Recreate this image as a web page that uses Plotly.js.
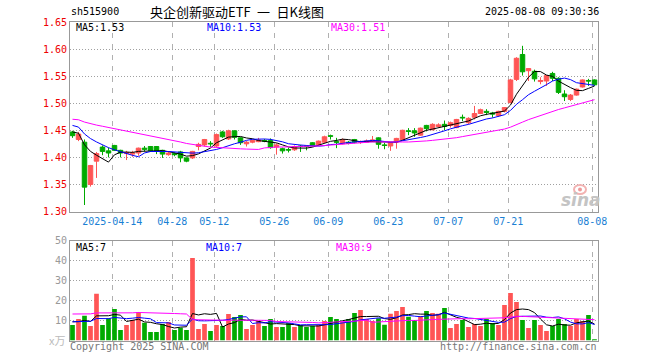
<!DOCTYPE html>
<html><head><meta charset="utf-8">
<script src="https://cdn.plot.ly/plotly-3.0.1.min.js"></script>
<style>html,body{margin:0;padding:0;background:#fff;}#chart{width:660px;height:360px;}</style>
</head><body><div id="chart"></div>
<script>
const dates = ["2025-04-02","2025-04-03","2025-04-07","2025-04-08","2025-04-09","2025-04-10","2025-04-11",
"2025-04-14","2025-04-15","2025-04-16","2025-04-17","2025-04-18","2025-04-21","2025-04-22","2025-04-23","2025-04-24","2025-04-25",
"2025-04-28","2025-04-29","2025-04-30","2025-05-06","2025-05-07","2025-05-08","2025-05-09",
"2025-05-12","2025-05-13","2025-05-14","2025-05-15","2025-05-16","2025-05-19","2025-05-20","2025-05-21","2025-05-22","2025-05-23",
"2025-05-26","2025-05-27","2025-05-28","2025-05-29","2025-05-30","2025-06-03","2025-06-04","2025-06-05","2025-06-06",
"2025-06-09","2025-06-10","2025-06-11","2025-06-12","2025-06-13","2025-06-16","2025-06-17","2025-06-18","2025-06-19","2025-06-20",
"2025-06-23","2025-06-24","2025-06-25","2025-06-26","2025-06-27","2025-06-30","2025-07-01","2025-07-02","2025-07-03","2025-07-04",
"2025-07-07","2025-07-08","2025-07-09","2025-07-10","2025-07-11","2025-07-14","2025-07-15","2025-07-16","2025-07-17","2025-07-18",
"2025-07-21","2025-07-22","2025-07-23","2025-07-24","2025-07-25","2025-07-28","2025-07-29","2025-07-30","2025-07-31",
"2025-08-01","2025-08-04","2025-08-05","2025-08-06","2025-08-07","2025-08-08"];

const open = [1.447,1.433,1.428,1.350,1.393,1.419,1.412,1.422,1.413,1.407,
1.406,1.408,1.417,1.420,1.420,1.413,1.405,1.407,1.410,1.399,
1.399,1.420,1.423,1.426,1.421,1.447,1.434,1.449,1.436,1.425,
1.428,1.429,1.431,1.431,1.419,1.416,1.4145,1.414,1.421,1.421,
1.427,1.423,1.428,1.440,1.429,1.425,1.428,1.433,1.428,1.428,
1.430,1.436,1.423,1.421,1.428,1.433,1.449,1.449,1.441,1.459,
1.451,1.457,1.461,1.459,1.455,1.474,1.464,1.474,1.481,1.485,
1.482,1.477,1.485,1.501,1.544,1.590,1.560,1.559,1.540,1.541,
1.555,1.546,1.517,1.507,1.515,1.530,1.542,1.543];

const high = [1.449,1.447,1.433,1.386,1.410,1.422,1.418,1.423,1.414,1.412,
1.412,1.418,1.421,1.421,1.421,1.414,1.411,1.409,1.412,1.400,
1.412,1.427,1.434,1.430,1.444,1.449,1.451,1.450,1.437,1.430,
1.433,1.436,1.434,1.435,1.426,1.418,1.418,1.422,1.423,1.422,
1.428,1.431,1.440,1.442,1.436,1.435,1.430,1.434,1.431,1.433,
1.4395,1.437,1.427,1.428,1.436,1.451,1.454,1.454,1.455,1.460,
1.463,1.463,1.468,1.466,1.471,1.479,1.474,1.495,1.490,1.489,
1.484,1.486,1.493,1.545,1.585,1.606,1.565,1.562,1.548,1.552,
1.558,1.548,1.524,1.517,1.527,1.544,1.545,1.544];

const low = [1.436,1.430,1.312,1.346,1.362,1.404,1.400,1.412,1.400,1.395,
1.401,1.403,1.411,1.410,1.406,1.399,1.403,1.402,1.391,1.391,
1.397,1.413,1.420,1.419,1.419,1.436,1.432,1.433,1.423,1.420,
1.426,1.428,1.428,1.416,1.405,1.407,1.409,1.412,1.410,1.413,
1.420,1.422,1.427,1.433,1.417,1.424,1.424,1.426,1.425,1.427,
1.429,1.416,1.415,1.412,1.416,1.432,1.441,1.438,1.440,1.448,
1.450,1.455,1.450,1.455,1.454,1.467,1.461,1.470,1.480,1.478,
1.4735,1.475,1.483,1.500,1.541,1.551,1.541,1.540,1.535,1.532,
1.541,1.517,1.504,1.504,1.514,1.529,1.532,1.532];

const close = [1.440,1.443,1.345,1.385,1.407,1.411,1.408,1.413,1.408,1.409,
1.408,1.417,1.415,1.412,1.412,1.406,1.408,1.405,1.399,1.393,
1.411,1.424,1.433,1.425,1.442,1.438,1.449,1.437,1.427,1.428,
1.431,1.432,1.430,1.418,1.423,1.412,1.4135,1.420,1.420,1.420,
1.421,1.430,1.438,1.439,1.428,1.433,1.426,1.428,1.429,1.430,
1.432,1.424,1.422,1.427,1.435,1.450,1.448,1.445,1.454,1.453,
1.461,1.460,1.457,1.464,1.470,1.473,1.472,1.481,1.488,1.483,
1.480,1.485,1.492,1.543,1.583,1.558,1.564,1.545,1.542,1.551,
1.546,1.520,1.512,1.515,1.526,1.543,1.541,1.534];

// volume, 万手
const volume = [7.75,10.75,12.4,7.25,23.4,7.75,11.1,15.75,5.25,7.75,
10.25,14.25,8.9,4.25,4.25,8.25,9.25,5.25,6.4,5.25,
41.25,5.75,8.25,4.75,7.75,7.25,13.25,11.75,12.75,5.75,
7.75,9.75,7.25,10.75,6.75,6.75,8.75,6.75,7.75,6.75,
7.25,7.75,9.75,11.75,10.75,9.4,10.75,13.75,15.25,10.75,
9.75,11.1,7.9,13.4,14.75,16.75,11.9,10.25,12.25,14.75,
13.75,13.4,16.25,6.25,8.25,10.25,6.75,8.25,7.25,10.75,
8.75,7.75,17.75,23.75,19.25,10.25,6.25,10.25,7.75,4.75,
7.25,10.75,8.25,7.25,10.75,9.75,12.75,0.6];

// 29 sessions before the window (estimated from where the MA lines start)
const preClose = [1.470,1.474,1.478,1.481,1.476,1.472,1.475,1.479,1.483,1.480,
1.476,1.473,1.477,1.479,1.474,1.471,1.475,1.478,1.474,1.476,
1.474,1.472,1.470,1.469,1.470,1.455,1.452,1.446,1.442];
const preVolume = [9.5,8.8,10.2,9.1,8.6,9.9,10.4,8.7,9.2,9.8,
8.9,9.6,9.3,10.1,8.5,9.4,9.0,9.7,9.05,126,
9.0,9.8,9.2,9.6,9.4,10.2,9.5,9.8,9.5];

const tickDates = ["2025-04-14","2025-04-28","2025-05-12","2025-05-26","2025-06-09","2025-06-23","2025-07-07","2025-07-21","2025-08-08"];
const tickLabels = ["2025-04-14","04-28","05-12","05-26","06-09","06-23","07-07","07-21","08-08"];
const priceTicks = [1.30,1.35,1.40,1.45,1.50,1.55,1.60,1.65];
const volTicks = [10,20,30,40,50];
const volMALabels = ["MA5:7","MA10:7","MA30:9"];

const UP = "#ff5555", DOWN = "#00aa00";
const MA_COLORS = ["#000000","#0000ff","#ff00ff"];
const MA_N = [5,10,30];

function ma(pre, arr, n){
  const all = pre.concat(arr), off = pre.length;
  return arr.map((_, i) => {
    let s = 0;
    for (let k = off + i - n + 1; k <= off + i; k++) s += all[k];
    return s / n;
  });
}

const idx = dates.map((d, i) => i);
const tickPos = tickDates.map(d => dates.indexOf(d) - 0.37);
const volColors = close.map((c, i) => c >= open[i] ? UP : DOWN);

const traces = [];
traces.push({
  type: "candlestick", x: idx, open: open, high: high, low: low, close: close,
  text: dates, hoverinfo: "text+y",
  increasing: {line: {color: UP, width: 1}, fillcolor: UP},
  decreasing: {line: {color: DOWN, width: 1}, fillcolor: DOWN},
  whiskerwidth: 0, xaxis: "x", yaxis: "y"
});
const priceMA = MA_N.map(n => ma(preClose, close, n));
priceMA.forEach((m, k) => traces.push({
  type: "scatter", mode: "lines", x: idx, y: m, xaxis: "x", yaxis: "y",
  line: {color: MA_COLORS[k], width: 1}, hoverinfo: "skip"
}));
traces.push({
  type: "bar", x: idx, y: volume, xaxis: "x2", yaxis: "y2",
  marker: {color: volColors, line: {width: 0}}, hoverinfo: "y"
});
const volMA = MA_N.map(n => ma(preVolume, volume, n));
volMA.forEach((m, k) => traces.push({
  type: "scatter", mode: "lines", x: idx, y: m, xaxis: "x2", yaxis: "y2",
  line: {color: MA_COLORS[k], width: 1}, hoverinfo: "skip"
}));

const W = 660, H = 360;
const px = v => v / W, py = v => 1 - v / H;
const MONO = "DejaVu Sans Mono";
const xr = [-0.417, dates.length - 0.417];

const priceLabels = MA_N.map((n, k) => "MA" + n + ":" + priceMA[k][priceMA[k].length - 1].toFixed(2));

function ann(text, x, y, xanchor, color, size, family, extra){
  return Object.assign({text: text, x: px(x), y: py(y), xref: "paper", yref: "paper",
    xanchor: xanchor, yanchor: "middle", showarrow: false, borderpad: 0,
    font: {family: family || MONO, size: size || 10, color: color || "#000"}}, extra || {});
}

const layout = {
  width: W, height: H, margin: {l: 0, r: 0, t: 0, b: 0},
  paper_bgcolor: "#fff", plot_bgcolor: "#fff", showlegend: false,
  boxgap: 0.25, boxgroupgap: 0, bargap: 0.22, hovermode: "closest",
  xaxis: {domain: [px(70), px(598)], range: xr, anchor: "y",
    tickmode: "array", tickvals: tickPos, ticktext: tickLabels,
    showgrid: true, gridcolor: "#b0b0b0", griddash: "5px,6px", gridwidth: 1,
    showline: true, linecolor: "#999", linewidth: 1, mirror: true, ticks: "", zeroline: false,
    tickfont: {family: MONO, size: 10, color: "#1a7fd4"},
    rangeslider: {visible: false}, fixedrange: true},
  yaxis: {domain: [py(211.5), py(22)], range: [1.30, 1.65], anchor: "x",
    tickmode: "array", tickvals: priceTicks, ticktext: priceTicks.map(v => v.toFixed(2)),
    showgrid: true, gridcolor: "#a0a0a0", griddash: "1px,2px", gridwidth: 1,
    showline: true, linecolor: "#999", linewidth: 1, mirror: true, ticks: "", zeroline: false,
    tickfont: {family: MONO, size: 10, color: "#ee0000"}, fixedrange: true},
  xaxis2: {domain: [px(70), px(598)], range: xr, anchor: "y2",
    tickmode: "array", tickvals: tickPos, showticklabels: false,
    showgrid: true, gridcolor: "#b0b0b0", griddash: "5px,6px", gridwidth: 1,
    showline: true, linecolor: "#999", linewidth: 1, mirror: true, ticks: "", zeroline: false, fixedrange: true},
  yaxis2: {domain: [py(340.5), py(240.5)], range: [0, 50], anchor: "x2",
    tickmode: "array", tickvals: volTicks,
    showgrid: true, gridcolor: "#a0a0a0", griddash: "1px,2px", gridwidth: 1,
    showline: true, linecolor: "#999", linewidth: 1, mirror: true, ticks: "", zeroline: false,
    tickfont: {family: MONO, size: 10, color: "#999"}, fixedrange: true},
  annotations: [
    ann("sh515900", 70, 12, "left"),
    ann("央企创新驱动ETF\u2002一\u2002日K线图", 237, 11.5, "center", "#000", 13, "Noto Sans CJK SC"),
    ann("2025-08-08 09:30:36", 600, 12, "right"),
    ann(priceLabels[0], 75, 27.5, "left", MA_COLORS[0]),
    ann(priceLabels[1], 206, 27.5, "left", MA_COLORS[1]),
    ann(priceLabels[2], 330, 27.5, "left", MA_COLORS[2]),
    ann(volMALabels[0], 75, 247, "left", MA_COLORS[0]),
    ann(volMALabels[1], 205, 247, "left", MA_COLORS[1]),
    ann(volMALabels[2], 335, 247, "left", MA_COLORS[2]),
    ann("Copyright 2025 SINA.COM", 69, 346, "left", "#777"),
    ann("http://finance.sina.com.cn", 598, 346, "right", "#777"),
    ann("x万", 48, 340, "left", "#bbb", 11, "Noto Sans CJK SC"),
    ann("sina", 581, 200, "center", "#c4c4c4", 17, "DejaVu Sans", {font: {family: "DejaVu Sans", size: 17, color: "#c4c4c4", weight: "bold", style: "italic"}})
  ],
  shapes: [
    {type: "circle", xref: "paper", yref: "paper", x0: px(574), x1: px(586), y0: py(194), y1: py(185),
     line: {color: "#f2b2b2", width: 2}, fillcolor: "rgba(0,0,0,0)"},
    {type: "circle", xref: "paper", yref: "paper", x0: px(578), x1: px(582), y0: py(191.5), y1: py(187.5),
     line: {width: 0}, fillcolor: "#ee9999"}
  ]
};

Plotly.newPlot("chart", traces, layout, {displayModeBar: false, staticPlot: true});
</script>
</body></html>
